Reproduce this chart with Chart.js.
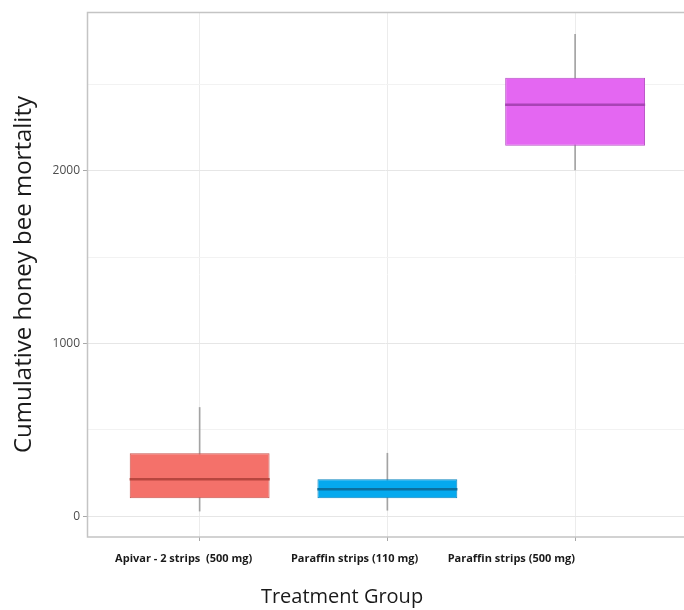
<!DOCTYPE html>
<html>
<head>
<meta charset="utf-8">
<script src="https://cdn.jsdelivr.net/npm/chart.js@4.4.0/dist/chart.umd.min.js"></script>
<style>
    html, body { margin: 0; padding: 0; background: #fff; }
</style>
</head>
<body>
<canvas id="canvas-1" width="684" height="610"></canvas>
<script>
// treatment groups and box plot stats
var groups = ['Apivar - 2 strips  (500 mg)', 'Paraffin strips (110 mg)', 'Paraffin strips (500 mg)'];
var groupPos = [1, 2, 3];
var labelPos = [0.915, 1.825, 2.66];   // labels in the figure sit a bit left of the boxes
var whiskerLow = [30, 35, 2005];
var q1 = [105, 105, 2145];
var median = [215, 157, 2383];
var q3 = [365, 214, 2540];
var whiskerHigh = [630, 365, 2790];
var yTicks = [0, 500, 1000, 1500, 2000, 2500];

var fillColors = ['#f4716a', '#05a9ee', '#e467f2'];
var edgeColors = ['#c8554f', '#0a86c0', '#b752c4'];
var medianColors = ['#b8463f', '#0b6f9e', '#a844b5'];

var FONT = "'Open Sans', 'Noto Sans', sans-serif";

var framePlugin = {
    id: 'frame',
    beforeDatasetsDraw: function (chart) {
        var a = chart.chartArea, ctx = chart.ctx;
        ctx.save();
        ctx.strokeStyle = '#c4c4c4';
        ctx.lineWidth = 1.5;
        ctx.beginPath();
        ctx.moveTo(a.right, a.top + 0.5);
        ctx.lineTo(a.left + 0.5, a.top + 0.5);
        ctx.lineTo(a.left + 0.5, a.bottom);
        ctx.lineTo(a.right, a.bottom);
        ctx.stroke();
        ctx.restore();
    }
};

var boxChart = new Chart(document.getElementById('canvas-1'), {
    type: 'bar',
    data: {
        datasets: [{
            // whiskers
            data: groupPos.map(function (x, i) { return { x: x, y: [whiskerLow[i], whiskerHigh[i]] }; }),
            backgroundColor: '#a3a3a3',
            barThickness: 1,
            grouped: false,
            order: 3
        }, {
            // boxes
            data: groupPos.map(function (x, i) { return { x: x, y: [q1[i], q3[i]] }; }),
            backgroundColor: fillColors,
            borderColor: edgeColors,
            borderWidth: 1,
            borderSkipped: false,
            barPercentage: 1,
            categoryPercentage: 0.745,
            grouped: false,
            order: 2
        }, {
            // medians
            type: 'scatter',
            data: groupPos.map(function (x, i) { return { x: x, y: median[i] }; }),
            pointStyle: 'line',
            radius: 70,
            hoverRadius: 70,
            borderWidth: 2.5,
            borderColor: medianColors,
            order: 1
        }]
    },
    options: {
        responsive: false,
        animation: false,
        layout: { autoPadding: false, padding: { top: 12, right: 0, left: 0, bottom: 0 } },
        plugins: {
            legend: { display: false },
            tooltip: { enabled: false },
            title: {
                display: true,
                position: 'bottom',
                text: 'Treatment Group',
                color: '#1a1a1a',
                font: { family: FONT, size: 20, weight: 'normal' },
                padding: { top: 0, bottom: 1 }
            }
        },
        scales: {
            x: {
                type: 'linear',
                position: 'bottom',
                offset: false,
                min: 0.4,
                max: 3.58,
                afterBuildTicks: function (axis) {
                    axis.ticks = groupPos.map(function (v) { return { value: v }; });
                },
                afterFit: function (scale) { scale.height = 4; },
                grid: { offset: false, color: '#ececec', tickColor: '#a8a8a8', tickLength: 4, lineWidth: 1 },
                border: { display: false },
                ticks: { display: false }
            },
            xl: {
                type: 'linear',
                position: 'bottom',
                offset: false,
                min: 0.4,
                max: 3.58,
                afterBuildTicks: function (axis) {
                    axis.ticks = labelPos.map(function (v) { return { value: v }; });
                },
                afterFit: function (scale) { scale.height = 44; },
                grid: { display: false, drawTicks: false, offset: false },
                border: { display: false },
                ticks: {
                    autoSkip: false,
                    maxRotation: 0,
                    padding: 11,
                    color: '#1a1a1a',
                    font: { family: FONT, size: 11, weight: 'bold' },
                    callback: function (value, index) { return groups[index]; }
                }
            },
            y: {
                min: -120,
                max: 2920,
                afterBuildTicks: function (axis) {
                    axis.ticks = yTicks.map(function (v) { return { value: v }; });
                },
                afterFit: function (scale) { scale.width = 87; },
                grid: {
                    color: function (c) { return c.tick && c.tick.value % 1000 === 0 ? '#e6e6e6' : '#f2f2f2'; },
                    tickColor: function (c) { return c.tick && c.tick.value % 1000 === 0 ? '#a8a8a8' : 'rgba(0,0,0,0)'; },
                    tickLength: 4
                },
                border: { display: false },
                ticks: {
                    padding: 3,
                    color: '#4d4d4d',
                    font: { family: FONT, size: 12 },
                    callback: function (value) { return value % 1000 === 0 ? value : ''; }
                },
                title: {
                    display: true,
                    text: 'Cumulative honey bee mortality',
                    color: '#1a1a1a',
                    font: { family: FONT, size: 24 },
                    padding: { top: 10, bottom: 0 }
                }
            }
        }
    },
    plugins: [framePlugin]
});
</script>
</body>
</html>
